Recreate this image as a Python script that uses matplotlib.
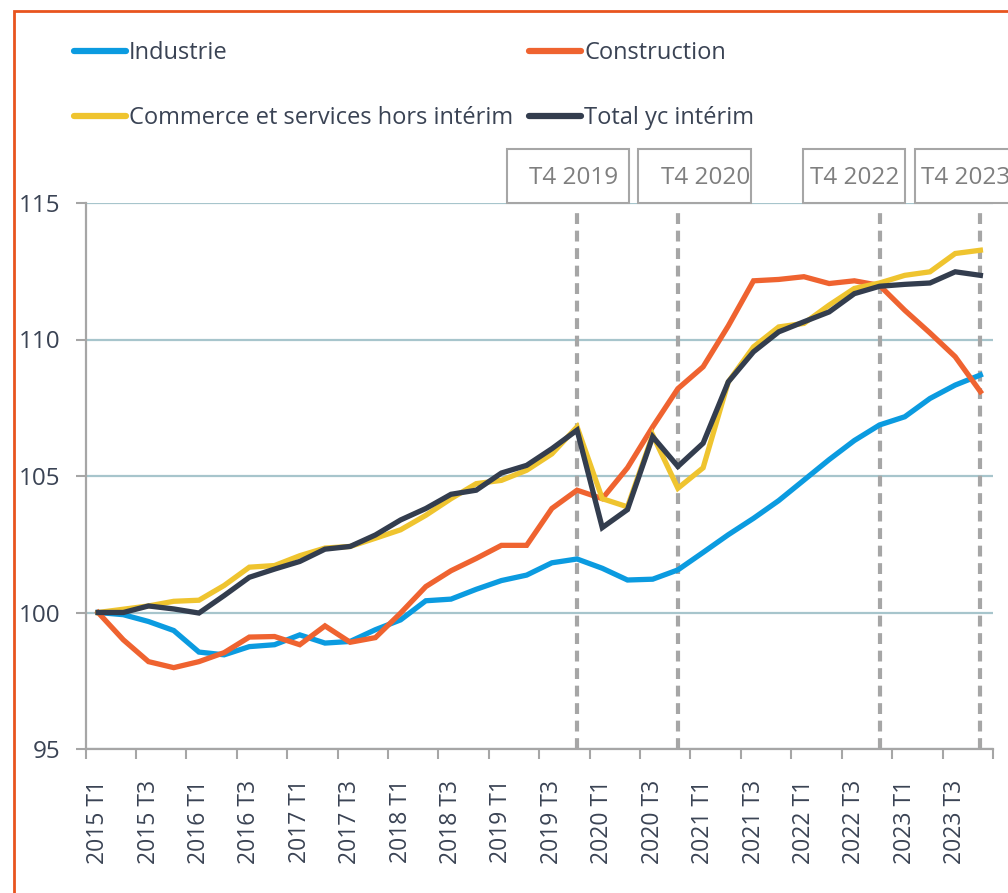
import matplotlib.pyplot as plt
import matplotlib.transforms as mtransforms
from matplotlib.lines import Line2D
from matplotlib.patches import Rectangle
import numpy as np

plt.rcParams['font.family'] = ['Open Sans', 'DejaVu Sans']

# quarters 2015 T1 .. 2023 T4
quarters = [f"{y} T{q}" for y in range(2015, 2024) for q in range(1, 5)]

industrie = [100.0, 99.92, 99.67, 99.34, 98.55, 98.45, 98.75, 98.82, 99.18, 98.88,
             98.94, 99.37, 99.73, 100.43, 100.49, 100.85, 101.17, 101.37, 101.82, 101.96,
             101.62, 101.19, 101.22, 101.56, 102.2, 102.85, 103.45, 104.1, 104.85, 105.6,
             106.3, 106.87, 107.17, 107.84, 108.33, 108.7]
construction = [100.0, 99.0, 98.2, 97.98, 98.2, 98.53, 99.1, 99.12, 98.82, 99.51,
                98.91, 99.08, 99.98, 100.95, 101.53, 101.98, 102.46, 102.46, 103.81, 104.48,
                104.17, 105.3, 106.8, 108.2, 109.0, 110.5, 112.15, 112.2, 112.3, 112.05,
                112.15, 111.98, 111.07, 110.24, 109.37, 108.09]
commerce = [100.0, 100.12, 100.24, 100.41, 100.45, 100.99, 101.66, 101.72, 102.08, 102.36,
            102.42, 102.72, 103.03, 103.56, 104.17, 104.72, 104.84, 105.21, 105.81, 106.8,
            104.17, 103.87, 106.5, 104.55, 105.3, 108.45, 109.73, 110.46, 110.59, 111.26,
            111.87, 112.07, 112.35, 112.48, 113.15, 113.27]
total = [100.0, 100.0, 100.24, 100.13, 99.98, 100.62, 101.29, 101.59, 101.87, 102.32,
         102.42, 102.84, 103.39, 103.81, 104.33, 104.48, 105.11, 105.39, 106.0, 106.68,
         103.11, 103.77, 106.44, 105.35, 106.2, 108.45, 109.55, 110.28, 110.65, 111.01,
         111.68, 111.95, 112.02, 112.07, 112.48, 112.35]

markers = ["2019 T4", "2020 T4", "2022 T4", "2023 T4"]
marker_labels = ["T4 2019", "T4 2020", "T4 2022", "T4 2023"]

C_IND = '#0B9BE0'
C_CON = '#EF6330'
C_COM = '#EFC42F'
C_TOT = '#333D4E'
TXT = '#3A4354'
GREY = '#A6A6A6'

fig = plt.figure(figsize=(10.08, 8.93), dpi=100)
ax = fig.add_axes([85.5 / 1008, 1 - 749 / 893, 907.5 / 1008, 546 / 893])

x = np.arange(len(quarters))

# dashed reference lines
for m in markers:
    ax.axvline(quarters.index(m), ymin=0, ymax=0.982, color=GREY, lw=3,
               ls=(0, (2.6, 1.6)), zorder=1.5)

ax.plot(x, industrie, color=C_IND, lw=3.8, zorder=3, solid_joinstyle='miter')
ax.plot(x, construction, color=C_CON, lw=3.8, zorder=3, solid_joinstyle='miter')
ax.plot(x, commerce, color=C_COM, lw=3.8, zorder=3, solid_joinstyle='miter')
ax.plot(x, total, color=C_TOT, lw=3.8, zorder=3, solid_joinstyle='miter')

ax.set_xlim(-0.5, len(quarters) - 0.5)
ax.set_ylim(95, 115)
ax.set_yticks([95, 100, 105, 110, 115])
ax.yaxis.grid(True, color='#A7C5CC', lw=1.6)
ax.set_axisbelow(True)

# major ticks at category boundaries, labels on every other quarter
ax.set_xticks(np.arange(-0.5, len(quarters), 2))
ax.set_xticklabels([])
ax.set_xticks(x[::2], minor=True)
ax.set_xticklabels(quarters[::2], minor=True, rotation=90, fontsize=16.5, color=TXT)
ax.tick_params(axis='x', which='major', length=7, width=1.5, color=GREY)
ax.tick_params(axis='x', which='minor', length=0, pad=22)
ax.tick_params(axis='y', length=7, width=1.5, color=GREY, pad=11, labelsize=17.5,
               labelcolor=TXT)

for s in ['top', 'right']:
    ax.spines[s].set_visible(False)
for s in ['left', 'bottom']:
    ax.spines[s].set_color(GREY)
    ax.spines[s].set_linewidth(1.6)

# boxes above the dashed lines
trans = mtransforms.blended_transform_factory(ax.transData, ax.transAxes)
box_spans = [(16.23, 21.07), (21.43, 25.91), (27.98, 32.02), (32.42, 37.5)]
text_pos = [18.85, 24.1, 30.0, 34.4]
for (x0, x1), tx, lab in zip(box_spans, text_pos, marker_labels):
    ax.add_patch(Rectangle((x0, 1.0), x1 - x0, 0.099, transform=trans, fill=True,
                           facecolor='white', edgecolor=GREY, lw=1.5, clip_on=False,
                           zorder=4))
    ax.text(tx, 1.046, lab, transform=trans, ha='center', va='center', fontsize=17.5,
            color='#7F7F7F', zorder=5, clip_on=False)

# legend
handles = [Line2D([], [], color=c, lw=4.5, solid_capstyle='round')
           for c in [C_IND, C_COM, C_CON, C_TOT]]
labels = ['Industrie', 'Commerce et services hors intérim', 'Construction', 'Total yc intérim']
leg = fig.legend(handles, labels, ncol=2, loc='upper left',
                 bbox_to_anchor=(74 / 1008, 1 - 41 / 893), frameon=False,
                 fontsize=17, handlelength=2.2, handletextpad=0.12,
                 labelspacing=1.75, columnspacing=0.7, borderpad=0, borderaxespad=0)
for t in leg.get_texts():
    t.set_color(TXT)

# orange frame around the figure
fig.patches.append(Rectangle((14 / 1008, -0.05), 1.1, 1 - 11 / 893 + 0.05,
                             transform=fig.transFigure, fill=False,
                             edgecolor='#E8541E', lw=2, clip_on=False))

fig.savefig('out.png', dpi=100)
